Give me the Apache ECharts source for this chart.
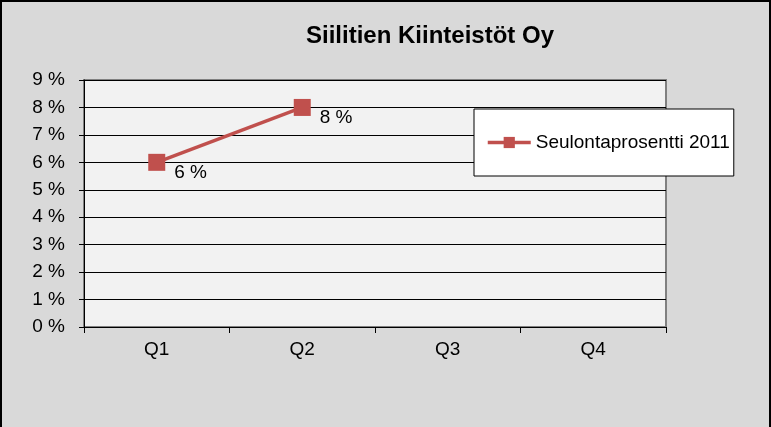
<!DOCTYPE html>
<html>
<head>
<meta charset="utf-8">
<script src="https://cdn.jsdelivr.net/npm/echarts@6/dist/echarts.min.js"></script>
<style>
html,body{margin:0;padding:0;background:#d9d9d9;}
#c{width:771px;height:427px;}
</style>
</head>
<body>
<div id="c"></div>
<script>
const titleText = 'Siilitien Kiinteistöt Oy';
const categories = ['Q1', 'Q2', 'Q3', 'Q4'];
const seriesName = 'Seulontaprosentti 2011';
const seriesValues = [6, 8, null, null];
const yMin = 0, yMax = 9, yInterval = 1;

const chart = echarts.init(document.getElementById('c'), null, {renderer: 'canvas'});
const font = 'Liberation Sans, Arial, sans-serif';
chart.setOption({
  backgroundColor: '#d9d9d9',
  animation: false,
  title: {
    text: titleText,
    left: 301,
    top: 19,
    textStyle: {fontFamily: font, fontSize: 24, fontWeight: 'bold', color: '#000'}
  },
  graphic: [{
    type: 'rect',
    shape: {x: 1, y: 1, width: 769, height: 440},
    style: {fill: 'none', stroke: '#000', lineWidth: 2},
    silent: true,
    z: 100
  }],
  legend: {
    left: 474,
    top: 109,
    orient: 'vertical',
    backgroundColor: '#fff',
    borderColor: '#000',
    borderWidth: 1,
    borderRadius: 0,
    padding: [24, 4, 24, 12],
    itemWidth: 43,
    itemHeight: 14,
    lineStyle: {width: 3.5},
    textStyle: {fontFamily: font, fontSize: 19, color: '#000'},
    data: [seriesName]
  },
  grid: {
    left: 84, right: 105, top: 80, bottom: 100,
    show: true,
    backgroundColor: '#f2f2f2',
    borderColor: '#808080',
    borderWidth: 2
  },
  xAxis: {
    type: 'category',
    data: categories,
    boundaryGap: true,
    axisLine: {lineStyle: {color: '#000', width: 1}},
    axisTick: {show: true, length: 6, lineStyle: {color: '#000'}},
    axisLabel: {fontFamily: font, fontSize: 19, color: '#000', margin: 13},
    splitLine: {show: false}
  },
  yAxis: {
    type: 'value',
    min: yMin, max: yMax, interval: yInterval,
    axisLine: {show: true, lineStyle: {color: '#000', width: 1}},
    axisTick: {show: true, length: 5, lineStyle: {color: '#000'}},
    axisLabel: {fontFamily: font, fontSize: 19, color: '#000', margin: 19,
      formatter: v => v + ' %'},
    splitLine: {show: true, lineStyle: {color: '#000', width: 1}}
  },
  series: [{
    name: seriesName,
    type: 'line',
    data: seriesValues,
    symbol: 'rect',
    symbolSize: 17,
    lineStyle: {color: '#c0504d', width: 3.5},
    itemStyle: {color: '#c0504d'},
    label: {
      show: true,
      position: 'right',
      distance: 9,
      offset: [0, 10],
      fontFamily: font,
      fontSize: 19,
      color: '#000',
      formatter: p => p.value + ' %'
    }
  }]
});
</script>
</body>
</html>
